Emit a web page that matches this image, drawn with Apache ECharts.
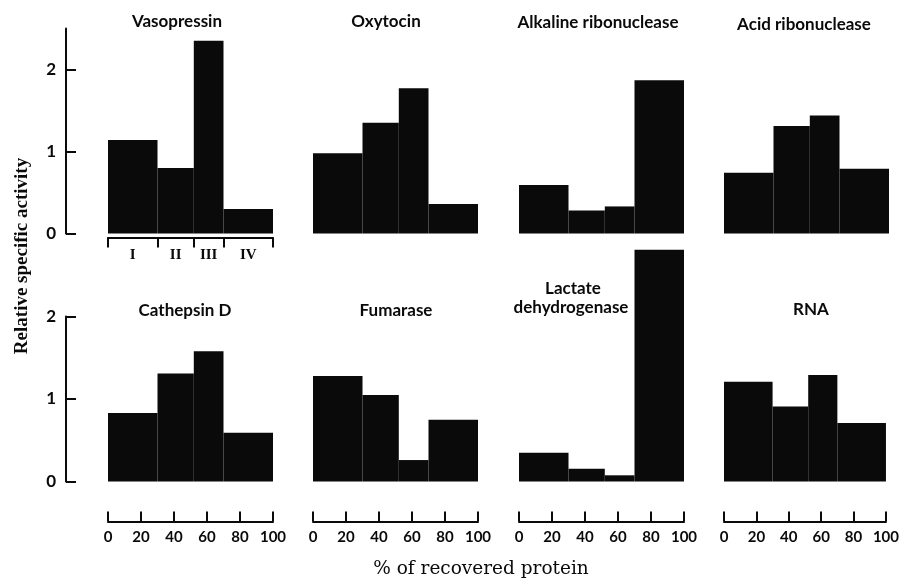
<!DOCTYPE html>
<html>
<head>
<meta charset="utf-8">
<script src="https://cdn.jsdelivr.net/npm/echarts@6/dist/echarts.min.js"></script>
<style>
html,body{margin:0;padding:0;background:#fff;}
#chart{width:902px;height:581px;}
</style>
</head>
<body>
<div id="chart"></div>
<script>
// Fraction boundaries (% of recovered protein) and labels
const fractionEdges = [0, 30, 52, 70, 100];
const fractionLabels = ['I', 'II', 'III', 'IV'];
const fractionLabelPositions = [15, 41, 61, 85];
const xTickValues = [0, 20, 40, 60, 80, 100];
const yTickValues = [0, 1, 2];

const panelTitles = ['Vasopressin', 'Oxytocin', 'Alkaline ribonuclease', 'Acid ribonuclease',
                     'Cathepsin D', 'Fumarase', 'Lactate\ndehydrogenase', 'RNA'];

// Relative specific activity of fractions I-IV
const vasopressin          = [1.14, 0.80, 2.35, 0.30];
const oxytocin             = [0.98, 1.35, 1.77, 0.36];
const alkalineRibonuclease = [0.59, 0.28, 0.33, 1.87];
const acidRibonuclease     = [0.74, 1.31, 1.44, 0.79];
const cathepsinD           = [0.83, 1.31, 1.58, 0.59];
const fumarase             = [1.28, 1.05, 0.26, 0.75];
const lactateDehydrogenase = [0.35, 0.155, 0.075, 2.81];
const rna                  = [1.21, 0.91, 1.29, 0.71];

const panelValues = [vasopressin, oxytocin, alkalineRibonuclease, acidRibonuclease,
                     cathepsinD, fumarase, lactateDehydrogenase, rna];

const chart = echarts.init(document.getElementById('chart'), null, {renderer: 'canvas'});

const colLefts = [108, 313, 519, 724];
const gridWidth = 165;
const rowTop = [28.5, 316.5];
const rowHeight = [205, 165];
const rowMax = [2.5, 2];

const titlePos = [
  [177, 22], [386, 22], [598, 23], [804, 25],
  [185, 311], [396, 311], [572, 0], [811, 310]
];

const INK = '#0a0a0a';
const titleFont = 'bold 17px Lato, "Open Sans", sans-serif';

const grids = [], xAxes = [], yAxes = [], series = [];
for (let i = 0; i < 8; i++) {
  const row = Math.floor(i / 4), col = i % 4;
  grids.push({left: colLefts[col], width: gridWidth, top: rowTop[row], height: rowHeight[row]});

  // x axis
  if (row === 0 && col === 0) {
    xAxes.push({
      gridIndex: i, type: 'value', min: 0, max: 100, offset: 4,
      axisLine: {show: true, onZero: false, lineStyle: {color: INK, width: 2}},
      axisTick: {show: true, inside: false, length: 10, customValues: fractionEdges,
                 lineStyle: {color: INK, width: 2}},
      axisLabel: {show: true, customValues: fractionLabelPositions, margin: 10,
                  formatter: v => fractionLabels[fractionLabelPositions.indexOf(v)] || '',
                  color: INK, fontFamily: '"Liberation Serif", serif', fontWeight: 'bold', fontSize: 15},
      splitLine: {show: false}
    });
  } else if (row === 1) {
    xAxes.push({
      gridIndex: i, type: 'value', min: 0, max: 100, interval: 20, offset: 40,
      axisLine: {show: true, onZero: false, lineStyle: {color: INK, width: 2}},
      axisTick: {show: true, inside: true, length: 10, lineStyle: {color: INK, width: 2}},
      axisLabel: {show: true, margin: 8, color: INK, fontFamily: 'Lato, "Open Sans", sans-serif',
                  fontWeight: 'bold', fontSize: 15},
      splitLine: {show: false}
    });
  } else {
    xAxes.push({gridIndex: i, type: 'value', min: 0, max: 100, show: false});
  }

  // y axis
  if (col === 0) {
    yAxes.push({
      gridIndex: i, type: 'value', min: 0, max: rowMax[row], offset: 42,
      axisLine: {show: true, onZero: false, lineStyle: {color: INK, width: 2}},
      axisTick: {show: true, inside: true, length: 10, customValues: yTickValues,
                 lineStyle: {color: INK, width: 2}},
      axisLabel: {show: true, customValues: yTickValues, margin: 10, color: INK,
                  fontFamily: 'Lato, "Open Sans", sans-serif', fontWeight: 'bold', fontSize: 17},
      splitLine: {show: false}
    });
  } else {
    yAxes.push({gridIndex: i, type: 'value', min: 0, max: rowMax[row], show: false});
  }

  const vals = panelValues[i];
  const data = vals.map((v, k) => [fractionEdges[k], fractionEdges[k + 1], v]);
  series.push({
    type: 'custom', xAxisIndex: i, yAxisIndex: i, clip: false,
    encode: {x: [0, 1], y: 2},
    data: data,
    renderItem: (params, api) => {
      const p0 = api.coord([api.value(0), 0]);
      const p1 = api.coord([api.value(1), api.value(2)]);
      return {
        type: 'rect',
        shape: {x: p0[0], y: p1[1], width: p1[0] - p0[0], height: p0[1] - p1[1]},
        style: {fill: INK}
      };
    }
  });
}

const graphics = [];
panelTitles.forEach((t, i) => {
  if (t.indexOf('\n') >= 0) {
    const parts = t.split('\n');
    graphics.push({type: 'text', x: 573, y: 289,
      style: {text: parts[0], font: titleFont, fill: INK, textAlign: 'center', textVerticalAlign: 'middle'}});
    graphics.push({type: 'text', x: 571, y: 308,
      style: {text: parts[1], font: titleFont, fill: INK, textAlign: 'center', textVerticalAlign: 'middle'}});
  } else {
    graphics.push({type: 'text', x: titlePos[i][0], y: titlePos[i][1],
      style: {text: t, font: titleFont, fill: INK, textAlign: 'center', textVerticalAlign: 'middle'}});
  }
});
graphics.push({type: 'text', x: 22, y: 256, rotation: Math.PI / 2,
  style: {text: 'Relative specific activity', font: 'bold 19px "Liberation Serif", serif', fill: INK,
          textAlign: 'center', textVerticalAlign: 'middle'}});
graphics.push({type: 'text', x: 481, y: 569,
  style: {text: '% of recovered protein', font: '18.5px "DejaVu Serif", serif', fill: INK,
          textAlign: 'center', textVerticalAlign: 'middle'}});

chart.setOption({
  animation: false,
  backgroundColor: '#fff',
  grid: grids,
  xAxis: xAxes,
  yAxis: yAxes,
  series: series,
  graphic: graphics
});
</script>
</body>
</html>
